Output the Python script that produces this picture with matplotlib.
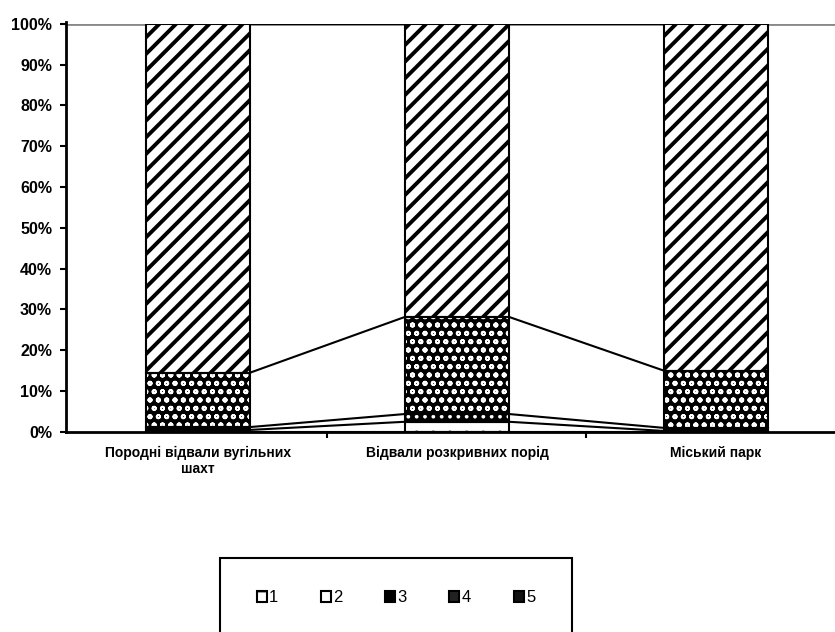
import numpy as np
import matplotlib.pyplot as plt
from matplotlib.patches import Rectangle, Patch
from matplotlib.ticker import PercentFormatter

categories = ['Породні відвали вугільних\nшахт', 'Відвали розкривних порід', 'Міський парк']
series_names = ['1', '2', '3', '4', '5']
s1 = [0.0, 0.0, 0.0]
s2 = [0.5, 2.5, 0.25]
s3 = [0.7, 1.9, 0.75]
s4 = [13.3, 23.8, 14.0]
s5 = [85.5, 71.8, 85.0]

plt.rcParams['font.family'] = ['Liberation Sans', 'DejaVu Sans']

data = np.array([s1, s2, s3, s4, s5], dtype=float)
data = data / data.sum(axis=0) * 100

# face, hatch colour, hatch, hatch width
styles = [
    ('white', 'black', '-', 1.5),
    ('white', 'black', '.', 1.5),
    ('black', 'white', '..', 1.5),
    ('black', 'white', 'oo', 1.3),
    ('white', 'black', '//', 2.8),
]

fig = plt.figure(figsize=(8.35, 6.32), dpi=100)
ax = fig.add_axes([0.079, 0.3165, 0.921, 0.646])

x = np.arange(len(categories))
w = 0.4
bottom = np.zeros(len(categories))
for vals, name, (fc, hc, hatch, hlw) in zip(data, series_names, styles):
    with plt.rc_context({'hatch.linewidth': hlw}):
        ax.bar(x, vals, w, bottom=bottom, color=fc, edgecolor=hc, hatch=hatch,
               linewidth=0, zorder=2)
    ax.bar(x, vals, w, bottom=bottom, fill=False, edgecolor='black', linewidth=1.5, zorder=3)
    bottom = bottom + vals
    # series lines between bars
    for i in range(len(categories) - 1):
        ax.plot([x[i] + w / 2, x[i + 1] - w / 2], [bottom[i], bottom[i + 1]],
                color='black', lw=1.5, zorder=1)

ax.set_xlim(-0.51, 2.46)
ax.set_ylim(0, 100)
ax.set_yticks(np.arange(0, 101, 10))
ax.yaxis.set_major_formatter(PercentFormatter(decimals=0))
ax.set_xticks(x)
ax.set_xticklabels(categories, fontweight='bold', fontsize=10)
ax.set_xticks([0.5, 1.5], minor=True)
ax.tick_params(axis='x', which='major', length=0, pad=10)
ax.tick_params(axis='x', which='minor', length=4, width=1.5, direction='out')
ax.tick_params(axis='y', length=4, width=1.5, direction='out', labelsize=11.5, pad=6)
for lab in ax.get_yticklabels():
    lab.set_fontweight('bold')

ax.axhline(100, color='#888888', lw=2, zorder=0)
for s in ['top', 'right']:
    ax.spines[s].set_visible(False)
for s in ['left', 'bottom']:
    ax.spines[s].set_linewidth(2)
ax.spines['left'].set_bounds(0, 100.5)

# legend
fig.patches.append(Rectangle((220 / 835, -0.01), 352 / 835, (632 - 558) / 632 + 0.01,
                             transform=fig.transFigure, fill=False,
                             edgecolor='black', lw=1.5))
proxies = [
    Patch(facecolor='white', edgecolor='black', hatch='-', lw=1.5),
    Patch(facecolor='white', edgecolor='black', lw=1.5),
    Patch(facecolor='black', edgecolor='black', lw=1.5),
    Patch(facecolor='#222222', edgecolor='black', lw=1.5),
    Patch(facecolor='#111111', edgecolor='black', lw=1.5),
]
fig.legend(handles=proxies, labels=series_names, loc='center',
           bbox_to_anchor=(396 / 835, 1 - 598 / 632), ncol=5, frameon=False,
           fontsize=12, handlelength=0.6, handleheight=0.6, handletextpad=0.15,
           columnspacing=2.55)

fig.savefig('out.png', dpi=100)
